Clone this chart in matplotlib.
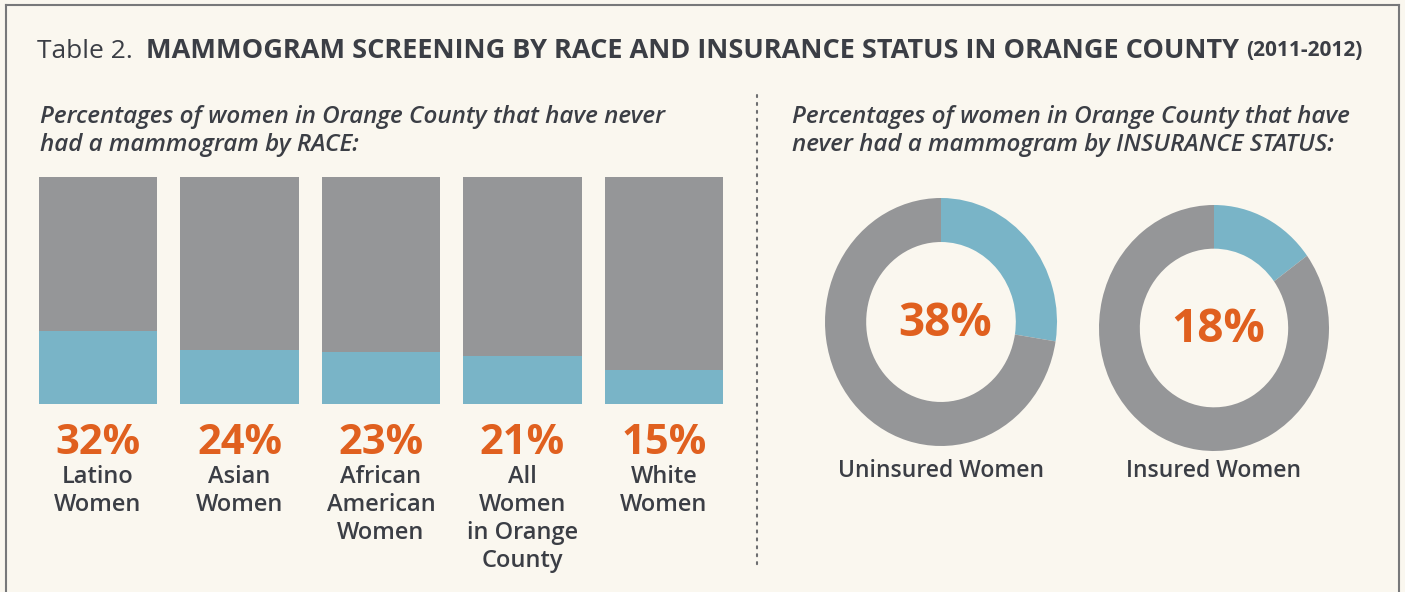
import matplotlib.pyplot as plt
import numpy as np
from matplotlib.lines import Line2D
from matplotlib.transforms import blended_transform_factory

plt.rcParams['font.family'] = ['Open Sans', 'DejaVu Sans']

race_groups = ['Latino\nWomen', 'Asian\nWomen', 'African\nAmerican\nWomen',
               'All\nWomen\nin Orange\nCounty', 'White\nWomen']
race_never = [32, 24, 23, 21, 15]
insurance_groups = ['Uninsured Women', 'Insured Women']
insurance_never = [38, 18]
ring_share = [27.5, 15]  # blue arc as it is drawn in the graphic

W, H = 1405, 592
bg = '#faf7ef'
gray = '#959698'
blue = '#79b4c7'
orange = '#e0601f'
dark = '#3b3e45'

fig = plt.figure(figsize=(W / 100, H / 100), dpi=100, facecolor=bg)


def fx(x):
    return x / W


def fy(y):
    return 1 - y / H


def axes_px(l, t, r, b):
    return fig.add_axes([fx(l), fy(b), (r - l) / W, (b - t) / H])


# frame
for xs, ys in [([6, 6], [5, 592]), ([6, 1399], [5, 5]), ([1399, 1399], [5, 592])]:
    fig.add_artist(Line2D([fx(v) for v in xs], [fy(v) for v in ys],
                          color='#77787a', lw=1.5))

# title, pieced together
renderer = fig.canvas.get_renderer()
x0 = fx(37)
parts = [('Table 2.  ', 'normal', 19), ('MAMMOGRAM SCREENING BY RACE AND INSURANCE STATUS IN ORANGE COUNTY ', 'bold', 19.5),
         ('(2011-2012)', 'bold', 15)]
for s, w, size in parts:
    t = fig.text(x0, fy(51), s, fontsize=size, fontweight=w, color=dark, va='center', ha='left')
    bb = t.get_window_extent(renderer)
    x0 = bb.x1 / W

# subtitles
fig.text(fx(40), fy(131), 'Percentages of women in Orange County that have never\nhad a mammogram by RACE:',
         fontsize=17.5, style='italic', fontweight='semibold', color=dark, va='center', ha='left', linespacing=1.18)
fig.text(fx(792), fy(131), 'Percentages of women in Orange County that have\nnever had a mammogram by INSURANCE STATUS:',
         fontsize=17.5, style='italic', fontweight='semibold', color=dark, va='center', ha='left', linespacing=1.18)

# divider
fig.add_artist(Line2D([fx(757)] * 2, [fy(95), fy(565)], color='#6d6e70', lw=1.5,
                      linestyle=(0, (1, 2.8)), dash_capstyle='round'))

# bars
ax = axes_px(39, 177, 723, 404)
x = np.arange(len(race_groups))
width = 0.834
ax.bar(x, 100, width, color=gray, linewidth=0)
ax.bar(x, race_never, width, color=blue, linewidth=0)
ax.set_xlim(-width / 2, x[-1] + width / 2)
ax.set_ylim(0, 100)
ax.axis('off')
tr = blended_transform_factory(ax.transData, fig.transFigure)
for i, (g, v) in enumerate(zip(race_groups, race_never)):
    ax.text(i, fy(443), f'{v}%', transform=tr, ha='center', va='center',
            fontsize=30, fontweight='bold', color=orange)
    ax.text(i, fy(465), g, transform=tr, ha='center', va='top',
            fontsize=17, fontweight='semibold', color=dark, linespacing=1.22)

# donuts
centers = [(941, 322, 116, 124), (1214, 328, 115, 123)]
for (cx, cy, rx, ry), g, v, s in zip(centers, insurance_groups, insurance_never, ring_share):
    dax = axes_px(cx - rx, cy - ry, cx + rx, cy + ry)
    dax.pie([s, 100 - s], colors=[blue, gray], startangle=90, counterclock=False,
            radius=1, wedgeprops=dict(width=0.355, linewidth=0))
    dax.set_aspect('auto')
    dax.set_xlim(-1, 1)
    dax.set_ylim(-1, 1)
    dax.axis('off')
    fig.text(fx(cx + 4), fy(cy + 2), f'{v}%', ha='center', va='center',
             fontsize=33, fontweight='bold', color=orange)
    fig.text(fx(cx), fy(471), g, ha='center', va='center', fontsize=16.5,
             fontweight='semibold', color=dark)

fig.savefig('out.png', dpi=100, facecolor=bg)
